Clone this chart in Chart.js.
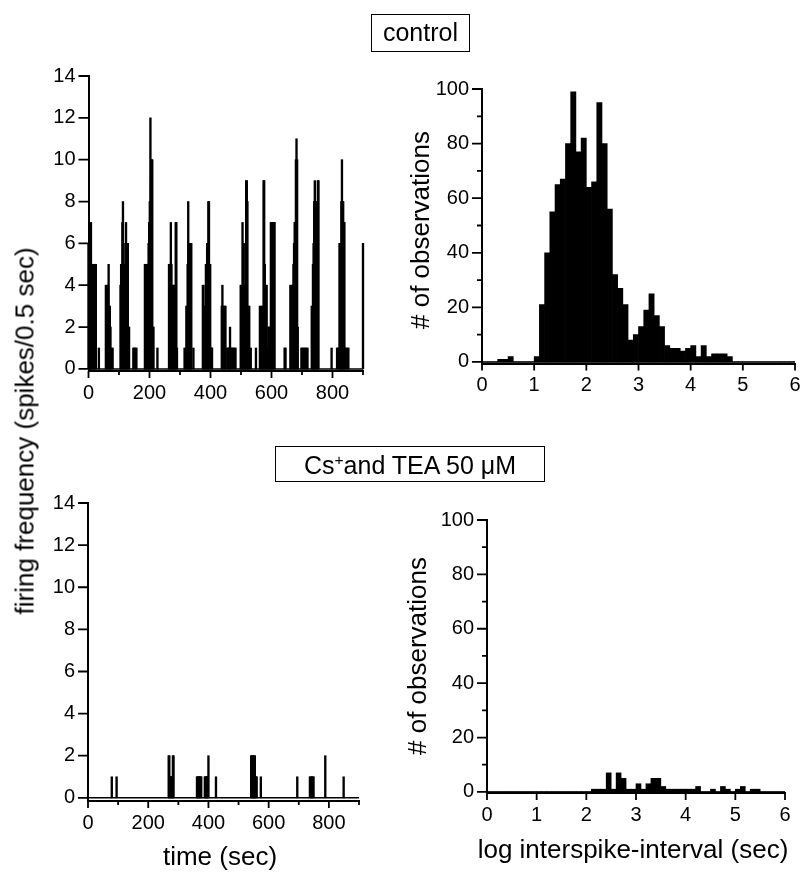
<!DOCTYPE html>
<html lang="en">
<head>
<meta charset="UTF-8">
<title>Firing frequency and interspike-interval: control vs Cs+ and TEA</title>
<script src="https://cdn.jsdelivr.net/npm/chart.js"></script>
<style>
  body { margin: 0; width: 800px; height: 874px; position: relative; overflow: hidden; background: #fff;
         font-family: "Liberation Sans", Arial, Helvetica, sans-serif; color: #000; }
  canvas { position: absolute; left: 0; top: 0; }
  .box { position: absolute; box-sizing: border-box; border: 1.5px solid #000; font-size: 25px; text-align: center; white-space: nowrap; }
  .box sup { font-size: 0.62em; line-height: 0; vertical-align: 0.55em; }
  .label { position: absolute; font-size: 26px; white-space: nowrap; transform: translate(-50%, -50%); }
  .label.rot { transform: translate(-50%, -50%) rotate(-90deg); }
</style>
</head>
<body>

<canvas id="ctlRate" width="800" height="874"></canvas>
<canvas id="ctlIsi" width="800" height="874"></canvas>
<canvas id="csRate" width="800" height="874"></canvas>
<canvas id="csIsi" width="800" height="874"></canvas>

<div class="box" style="left:371px; top:14px; width:99px; height:38px; line-height:35px;">control</div>
<div class="box" style="left:275px; top:446px; width:270px; height:36px; line-height:36px;">Cs<sup>+</sup>and TEA 50 μM</div>

<div class="label rot" style="left:25px; top:431px;">firing frequency (spikes/0.5 sec)</div>
<div class="label rot" style="left:420px; top:230px;"># of observations</div>
<div class="label rot" style="left:417px; top:656px;"># of observations</div>
<div class="label" style="left:220px; top:856px;">time (sec)</div>
<div class="label" style="left:633px; top:849px;">log interspike-interval (sec)</div>

<script>
// firing rate, control (time in sec, spikes per 0.5 sec bin)
const controlTime = [0, 2, 4, 6, 8, 10, 12, 14, 16, 18, 20, 22, 24, 34,
  57, 59, 62, 64, 66, 68, 70, 72, 74, 79,
  105, 107, 109, 111, 113, 115, 117, 119, 121, 123, 125, 127, 129, 131, 133, 147, 150, 153, 157,
  185, 187, 189, 191, 193, 195, 197, 199, 201, 203, 205, 207, 209, 211, 213, 226,
  264, 266, 268, 270, 272, 274, 276, 278, 280, 282, 284, 286, 288, 290,
  315, 319, 321, 323, 325, 327, 329, 331, 333, 335, 337, 344,
  375, 377, 379, 381, 383, 385, 387, 389, 391, 393, 395, 397, 399, 401, 403, 405,
  437, 439, 441, 443, 445, 447, 449, 455, 458, 461, 464, 466, 470, 474, 478, 482,
  499, 501, 503, 505, 507, 509, 511, 513, 515, 517, 519, 521, 523, 525, 527, 532, 549,
  562, 564, 566, 568, 570, 572, 574, 576, 578, 580, 582, 584, 586, 590, 592, 594,
  598, 600, 602, 604, 606, 608, 610, 643, 646,
  662, 664, 666, 668, 670, 672, 674, 676, 678, 680, 682, 684, 686,
  698, 702, 706, 710, 714, 718,
  732, 734, 736, 738, 740, 742, 744, 746, 748, 750, 752, 754, 797,
  815, 818, 821, 823, 825, 827, 829, 831, 833, 835, 837, 839, 841, 845, 849, 852, 900];
const controlRate = [6, 6, 6, 7, 7, 5, 5, 5, 5, 5, 5, 5, 5, 1,
  4, 4, 4, 4, 5, 3, 3, 2, 1, 1,
  4, 5, 5, 7, 8, 5, 5, 5, 6, 7, 5, 6, 6, 2, 2, 1, 1, 1, 1,
  5, 5, 5, 5, 5, 5, 6, 7, 8, 12, 9, 10, 10, 2, 2, 1,
  5, 5, 5, 7, 5, 4, 4, 4, 4, 4, 4, 7, 7, 1,
  1, 1, 3, 3, 5, 8, 6, 6, 6, 6, 6, 1,
  4, 4, 3, 3, 3, 5, 5, 6, 5, 8, 8, 5, 5, 1, 1, 1,
  3, 4, 3, 3, 3, 3, 3, 1, 1, 1, 2, 1, 1, 1, 1, 1,
  4, 4, 4, 7, 4, 6, 4, 4, 4, 9, 9, 8, 3, 3, 3, 1, 1,
  3, 3, 2, 3, 3, 3, 9, 9, 5, 4, 4, 4, 1, 2, 2, 2,
  7, 7, 7, 7, 7, 7, 7, 1, 1,
  4, 4, 4, 4, 4, 5, 6, 7, 7, 10, 11, 10, 2,
  1, 1, 1, 1, 1, 1,
  3, 3, 5, 6, 8, 9, 8, 8, 8, 8, 9, 9, 1,
  1, 1, 1, 6, 6, 6, 8, 10, 8, 8, 7, 7, 1, 1, 1, 1, 6];

// firing rate, Cs+ and TEA 50 uM
const csTime = [79, 95,
  268, 270, 272, 274, 276, 278, 280, 282, 284,
  362, 364, 366, 368, 370, 372, 374, 376, 388, 390, 392, 394, 396, 398, 400, 425,
  542, 544, 546, 548, 550, 552, 554, 556, 558, 560, 574,
  695, 737, 740, 743, 746, 749, 788, 849];
const csRate = [1, 1,
  2, 2, 1, 1, 1, 1, 1, 2, 2,
  1, 1, 1, 1, 1, 1, 1, 1, 1, 1, 1, 1, 1, 1, 2, 1,
  2, 2, 2, 2, 1, 2, 2, 1, 1, 1, 1,
  1, 1, 1, 1, 1, 1, 2, 1];

// log interspike-interval histograms, bins of 0.1 from 0 to 6
const binWidth = 0.1;
const controlCounts = [0, 0, 0, 1, 1, 2, 0, 0, 0, 0,
  2, 21, 40, 55, 65, 67, 80, 99, 77, 82,
  64, 66, 95, 80, 56, 32, 27, 21, 8, 10,
  13, 19, 25, 17, 13, 6, 5, 5, 4, 5,
  6, 2, 6, 2, 3, 3, 3, 2, 0, 0,
  0, 0, 0, 0, 0, 0, 0, 0, 0, 0];
const csCounts = [0, 0, 0, 0, 0, 0, 0, 0, 0, 0,
  0, 0, 0, 0, 0, 0, 0, 0, 0, 0,
  0, 1, 1, 1, 7, 1, 7, 5, 1, 1,
  3, 1, 3, 5, 5, 2, 1, 1, 1, 1,
  1, 1, 2, 0, 0, 1, 0, 2, 1, 0,
  1, 2, 0, 1, 1, 0, 0, 0, 0, 0];

// axes
const timeSpan = [0, 900];
const timeTicks = [0, 200, 400, 600, 800];
const timeMinor = [100, 300, 500, 700, 900];
const rateTicks = [0, 2, 4, 6, 8, 10, 12, 14];
const logSpan = [0, 6];
const logTicks = [0, 1, 2, 3, 4, 5, 6];
const countTicks = [0, 20, 40, 60, 80, 100];
const countMinor = [10, 30, 50, 70, 90];

const tickFont = { family: "'Liberation Sans', Arial, Helvetica, sans-serif", size: 20 };

// draws major/minor tick marks outward from the axis lines
const tickMarks = {
  id: 'tickMarks',
  afterDraw(chart, args, o) {
    const { ctx, scales: { x, y } } = chart;
    ctx.save();
    ctx.strokeStyle = '#000';
    ctx.lineWidth = 1.8;
    ctx.beginPath();
    [[o.xMajor, 7], [o.xMinor, 4]].forEach(([vals, len]) => vals.forEach(v => {
      const px = x.getPixelForValue(v);
      ctx.moveTo(px, x.top); ctx.lineTo(px, x.top + len);
    }));
    [[o.yMajor, 10], [o.yMinor, 5]].forEach(([vals, len]) => vals.forEach(v => {
      const py = y.getPixelForValue(v);
      ctx.moveTo(y.right - len, py); ctx.lineTo(y.right, py);
    }));
    ctx.stroke();
    ctx.restore();
  }
};

function toPoints(xs, ys) {
  return xs.map((t, i) => ({ x: t, y: ys[i] }));
}
function histPoints(counts) {
  return counts.map((c, i) => ({ x: (i + 0.5) * binWidth, y: c }));
}
function baseline(span) {
  return { type: 'line', data: span.map(v => ({ x: v, y: 0 })), borderColor: '#000', borderWidth: 1.5, pointRadius: 0, clip: false };
}

function panel(id, area, xr, yr, bars) {
  const Wy = 70, Hx = 50;
  return new Chart(document.getElementById(id), {
    type: 'bar',
    data: { datasets: [baseline(xr.span), bars] },
    options: {
      responsive: false,
      animation: false,
      events: [],
      layout: {
        autoPadding: false,
        padding: { left: area.left - Wy, top: area.top, right: 800 - area.right, bottom: 874 - area.bottom - Hx }
      },
      plugins: {
        legend: { display: false },
        tooltip: { enabled: false },
        tickMarks: { xMajor: xr.ticks, xMinor: xr.minor, yMajor: yr.ticks, yMinor: yr.minor }
      },
      scales: {
        x: {
          type: 'linear', min: xr.span[0], max: xr.span[1], offset: false,
          grid: { display: false, drawTicks: true, tickLength: 7, offset: false },
          border: { display: true, color: '#000', width: 2 },
          ticks: { font: tickFont, color: '#000', padding: 3, maxRotation: 0, autoSkip: false },
          afterBuildTicks: s => { s.ticks = xr.ticks.map(v => ({ value: v })); },
          afterFit: s => { s.height = Hx; s.paddingLeft = 0; s.paddingRight = 0; }
        },
        y: {
          type: 'linear', min: yr.min, max: yr.ticks[yr.ticks.length - 1],
          grid: { display: false, drawTicks: true, tickLength: 10 },
          border: { display: true, color: '#000', width: 2 },
          ticks: { font: tickFont, color: '#000', padding: 3 },
          afterBuildTicks: s => { s.ticks = yr.ticks.map(v => ({ value: v })); },
          afterFit: s => { s.width = Wy; s.paddingTop = 0; s.paddingBottom = 0; }
        }
      }
    },
    plugins: [tickMarks]
  });
}

const spikeStyle = { backgroundColor: '#000', borderWidth: 0, barThickness: 1.7, grouped: false, clip: false };
const histStyle = { backgroundColor: '#000', borderWidth: 0, barPercentage: 1, categoryPercentage: 1, grouped: false };

panel('ctlRate', { left: 88.5, right: 363, top: 76, bottom: 371 },
  { span: timeSpan, ticks: timeTicks, minor: timeMinor },
  { min: -0.1, ticks: rateTicks, minor: [] },
  Object.assign({ data: toPoints(controlTime, controlRate) }, spikeStyle));

panel('ctlIsi', { left: 482, right: 795, top: 89, bottom: 363.6 },
  { span: logSpan, ticks: logTicks, minor: [] },
  { min: -0.6, ticks: countTicks, minor: countMinor },
  Object.assign({ data: histPoints(controlCounts) }, histStyle));

panel('csRate', { left: 88, right: 359, top: 503, bottom: 801 },
  { span: timeSpan, ticks: timeTicks, minor: timeMinor },
  { min: -0.15, ticks: rateTicks, minor: [] },
  Object.assign({ data: toPoints(csTime, csRate) }, spikeStyle));

panel('csIsi', { left: 487, right: 785, top: 520, bottom: 793 },
  { span: logSpan, ticks: logTicks, minor: [] },
  { min: -0.4, ticks: countTicks, minor: countMinor },
  Object.assign({ data: histPoints(csCounts) }, histStyle));
</script>
</body>
</html>
